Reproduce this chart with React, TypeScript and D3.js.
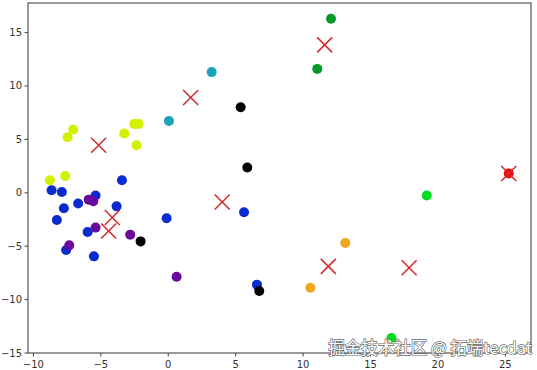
import React from "react";
import * as d3 from "d3";

const W = 537, H = 370;
const margin = { left: 28, top: 3, right: 6, bottom: 17 };

const clusterColors = ["#d2f000", "#0a2bd0", "#6a0a9c", "#000000", "#17a5b8", "#08982a", "#00dc20", "#f2a51e", "#ee0a0a"];

const pointX = [-7.05, -7.46, -3.26, -2.52, -2.2, -2.35, -8.78, -7.64,
  -3.43, -8.65, -7.89, -6.68, -7.74, -8.26, -5.39, -3.83, -5.98, -7.57, -5.51, -0.12, 5.62, 6.58,
  -5.9, -5.56, -5.39, -2.82, -7.34, 0.62,
  5.37, 5.86, -2.05, 6.75,
  3.22, 0.05,
  12.07, 11.05,
  19.17, 16.55,
  13.13, 10.54,
  25.25];
const pointY = [5.92, 5.2, 5.55, 6.45, 6.45, 4.45, 1.17, 1.58,
  1.17, 0.23, 0.08, -1.01, -1.45, -2.55, -0.26, -1.27, -3.67, -5.36, -5.95, -2.39, -1.83, -8.6,
  -0.64, -0.8, -3.26, -3.92, -4.92, -7.86,
  8.01, 2.36, -4.55, -9.2,
  11.3, 6.73,
  16.29, 11.6,
  -0.26, -13.6,
  -4.7, -8.89,
  1.8];
const pointCluster = [0, 0, 0, 0, 0, 0, 0, 0,
  1, 1, 1, 1, 1, 1, 1, 1, 1, 1, 1, 1, 1, 1,
  2, 2, 2, 2, 2, 2,
  3, 3, 3, 3,
  4, 4,
  5, 5,
  6, 6,
  7, 7,
  8];

const centerX = [-5.16, 1.66, 11.6, 25.25, -4.15, -4.42, 4.0, 11.87, 17.86];
const centerY = [4.45, 8.92, 13.85, 1.8, -2.32, -3.58, -0.86, -6.89, -7.01];

const xTicks = [-10, -5, 0, 5, 10, 15, 20, 25];
const yTicks = [-15, -10, -5, 0, 5, 10, 15];
const watermark = "掘金技术社区 @ 拓端tecdat";

export default function App() {
  const x = d3.scaleLinear().domain([-10.4, 26.9]).range([margin.left, W - margin.right]);
  const y = d3.scaleLinear().domain([-15, 17.77]).range([H - margin.bottom, margin.top]);
  const x0 = margin.left, x1 = W - margin.right, y0 = margin.top, y1 = H - margin.bottom;
  const font = "DejaVu Sans, sans-serif";
  const s = 7.5;
  return (
    <svg width={W} height={H} style={{ position: "absolute", left: 0, top: 0, background: "#fff" }}>
      <rect x={0} y={0} width={W} height={H} fill="#fff" />
      {pointX.map((px, i) => (
        <circle key={"p" + i} cx={x(px)} cy={y(pointY[i])} r={5} fill={clusterColors[pointCluster[i]]} />
      ))}
      {centerX.map((cx, i) => (
        <g key={"c" + i} stroke="#d62728" strokeWidth={1.5}>
          <line x1={x(cx) - s} y1={y(centerY[i]) - s} x2={x(cx) + s} y2={y(centerY[i]) + s} />
          <line x1={x(cx) - s} y1={y(centerY[i]) + s} x2={x(cx) + s} y2={y(centerY[i]) - s} />
        </g>
      ))}
      <rect x={x0} y={y0} width={x1 - x0} height={y1 - y0} fill="none" stroke="#555" strokeWidth={1.2} />
      {xTicks.map((t) => (
        <g key={"xt" + t}>
          <line x1={x(t)} x2={x(t)} y1={y1} y2={y1 + 3.5} stroke="#444" />
          <text x={x(t)} y={y1 + 15} fontSize={10} fontFamily={font} fill="#333" textAnchor="middle">
            {t < 0 ? "\u2212" + Math.abs(t) : t}
          </text>
        </g>
      ))}
      {yTicks.map((t) => (
        <g key={"yt" + t}>
          <line x1={x0 - 3.5} x2={x0} y1={y(t)} y2={y(t)} stroke="#444" />
          <text x={x0 - 6} y={y(t) + 3.5} fontSize={10} fontFamily={font} fill="#333" textAnchor="end">
            {t < 0 ? "\u2212" + Math.abs(t) : t}
          </text>
        </g>
      ))}
      <text x={532} y={354} fontSize={16.5} fontFamily="Noto Sans CJK SC, sans-serif" textAnchor="end"
        fill="#fff" stroke="#666" strokeWidth={1.3} paintOrder="stroke">
        {watermark}
      </text>
    </svg>
  );
}
